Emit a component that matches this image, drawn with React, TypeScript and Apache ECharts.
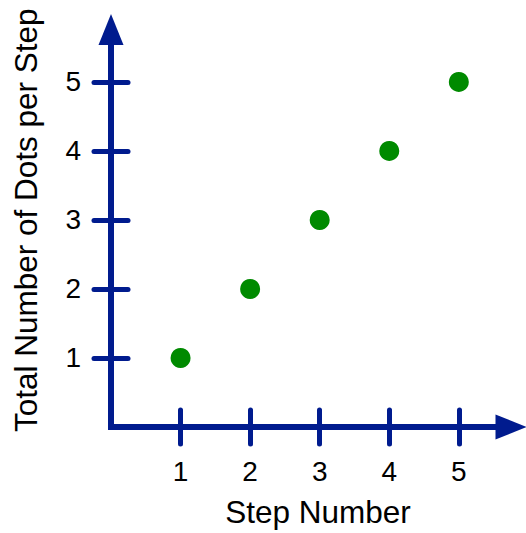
import React, { useEffect, useRef } from "react";
import * as echarts from "echarts";

const steps = [1, 2, 3, 4, 5];
const totalDots = [1, 2, 3, 4, 5];
const tickValues = [1, 2, 3, 4, 5];
const xTitle = "Step Number";
const yTitle = "Total Number of Dots per Step";

const AXIS_COLOR = "#001b8e";
const DOT_COLOR = "#008a00";
const FONT = "'Liberation Sans', Arial, Helvetica, sans-serif";

export default function App() {
  const ref = useRef<HTMLDivElement>(null);
  useEffect(() => {
    if (!ref.current) return;
    const chart = echarts.init(ref.current, null, { renderer: "svg" });
    const tickBase = {
      show: true,
      length: 17,
      lineStyle: { color: AXIS_COLOR, width: 5, cap: "round" },
      customValues: tickValues,
    };
    const mainLine = {
      show: true,
      symbol: ["none", "triangle"],
      symbolSize: [25, 31],
      lineStyle: { color: AXIS_COLOR, width: 6, cap: "square" },
    };
    const labelBase = {
      color: "#000",
      fontSize: 28,
      fontFamily: FONT,
      margin: 30,
      customValues: tickValues,
    };
    const nameStyle = { color: "#000", fontSize: 31.5, fontFamily: FONT };
    chart.setOption({
      animation: false,
      grid: { left: 111, right: 15, top: 29.5, bottom: 102, containLabel: false },
      xAxis: [
        {
          type: "value",
          position: "bottom",
          min: 0,
          max: 5.75,
          axisLine: mainLine,
          axisTick: { ...tickBase, inside: false },
          axisLabel: labelBase,
          splitLine: { show: false },
          name: xTitle,
          nameLocation: "middle",
          nameGap: 69,
          nameTextStyle: { ...nameStyle, padding: [0, 0, 0, 14] },
        },
        {
          type: "value",
          position: "bottom",
          min: 0,
          max: 5.75,
          axisLine: { show: false },
          axisTick: { ...tickBase, inside: true },
          axisLabel: { show: false },
          splitLine: { show: false },
        },
      ],
      yAxis: [
        {
          type: "value",
          position: "left",
          min: 0,
          max: 5.76,
          axisLine: mainLine,
          axisTick: { ...tickBase, inside: false },
          axisLabel: labelBase,
          splitLine: { show: false },
          name: yTitle,
          nameLocation: "middle",
          nameGap: 69,
          nameTextStyle: { ...nameStyle, padding: [0, 0, 0, 16] },
        },
        {
          type: "value",
          position: "left",
          min: 0,
          max: 5.76,
          axisLine: { show: false },
          axisTick: { ...tickBase, inside: true },
          axisLabel: { show: false },
          splitLine: { show: false },
        },
      ],
      series: [
        {
          type: "scatter",
          xAxisIndex: 0,
          yAxisIndex: 0,
          symbol: "circle",
          symbolSize: 20,
          itemStyle: { color: DOT_COLOR, opacity: 1 },
          data: steps.map((s, i) => [s, totalDots[i]]),
          z: 5,
        },
      ],
    });
    return () => chart.dispose();
  }, []);
  return (
    <div
      ref={ref}
      style={{ position: "absolute", left: 0, top: 0, width: 526, height: 533, background: "#fff" }}
    />
  );
}
